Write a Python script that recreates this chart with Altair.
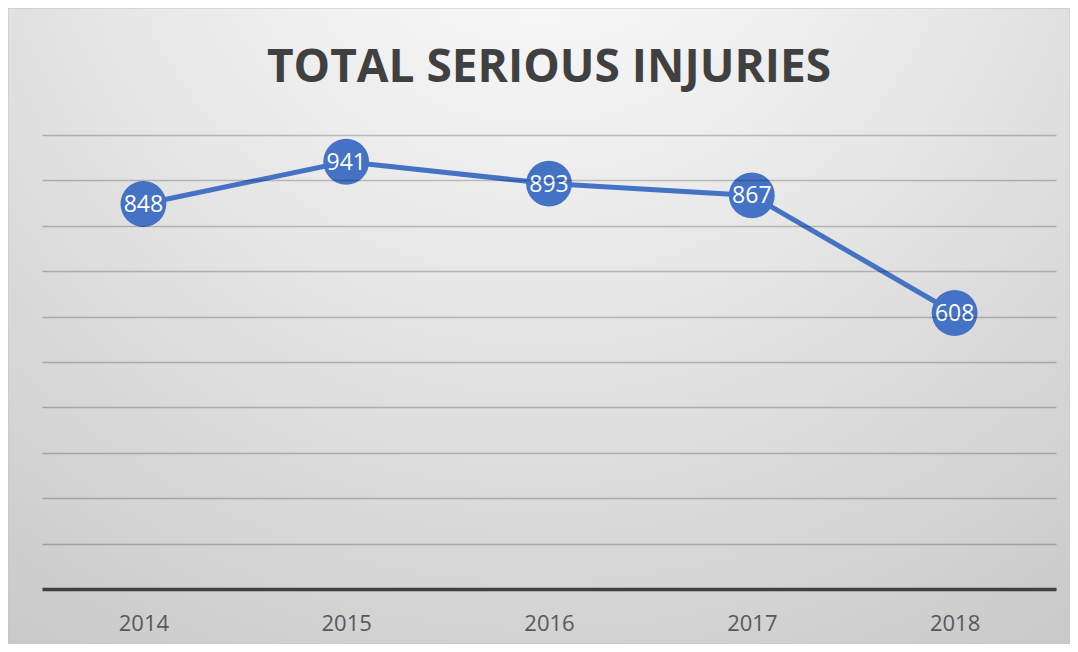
import altair as alt
import pandas as pd

years = ["2014", "2015", "2016", "2017", "2018"]
injuries = [848, 941, 893, 867, 608]
title_text = "TOTAL SERIOUS INJURIES"

df = pd.DataFrame({"year": years, "injuries": injuries})
one_df = pd.DataFrame({"t": [title_text]})

W, H = 1014, 454
PL, PT, PR, PB = 34, 127, 14, 55

FONT = "Open Sans"
BLUE = "#4472C4"

xenc = alt.X("year:O", scale=alt.Scale(type="point", padding=0.5),
             axis=alt.Axis(title=None, labelAngle=0, labelFontSize=22, labelColor="#595959",
                           labelFont=FONT, labelPadding=24, ticks=False, zindex=1,
                           domainColor="#404040", domainWidth=3.5, grid=False))
yenc = alt.Y("injuries:Q", scale=alt.Scale(domain=[0, 1000], nice=False, zero=True),
             axis=alt.Axis(title=None, labels=False, ticks=False, domain=False, zindex=1,
                           values=list(range(0, 1001, 100)), grid=True,
                           gridColor="#000000", gridOpacity=0.22, gridWidth=1.5))

background = alt.Chart(one_df).mark_rect(
    fill=alt.Gradient(
        gradient="radial",
        stops=[alt.GradientStop(color="#ffffff", offset=0),
               alt.GradientStop(color="#e8e8e8", offset=0.4),
               alt.GradientStop(color="#c6c6c6", offset=0.95)],
        x1=0.5, y1=0.05, r1=0, x2=0.5, y2=0.05, r2=1.0),
    stroke="#c4c4c4", strokeWidth=1,
).encode(
    x=alt.value(-PL), x2=alt.value(W + PR),
    y=alt.value(-PT), y2=alt.value(H + PB),
)

title = alt.Chart(one_df).mark_text(
    font=FONT, fontSize=46, fontWeight="bold", color="#404040",
    align="center", baseline="middle",
).encode(x=alt.value(W / 2), y=alt.value(-67), text="t:N")

base = alt.Chart(df)
line = base.mark_line(color=BLUE, strokeWidth=5).encode(x=xenc, y=yenc)
points = base.mark_point(filled=True, color=BLUE, opacity=1, size=2100, shape="circle").encode(x="year:O", y="injuries:Q")
labels = base.mark_text(color="white", font=FONT, fontSize=23, baseline="middle", align="center", dy=1).encode(
    x="year:O", y="injuries:Q", text="injuries:Q")

chart = alt.layer(background, title, line, points, labels).properties(
    width=W, height=H,
    padding={"left": PL, "top": PT, "right": PR, "bottom": PB},
    autosize=alt.AutoSizeParams(type="none"),
).configure_view(stroke=None).configure(background="white")

chart.save("out.html", embed_options={"renderer": "svg", "actions": False})
